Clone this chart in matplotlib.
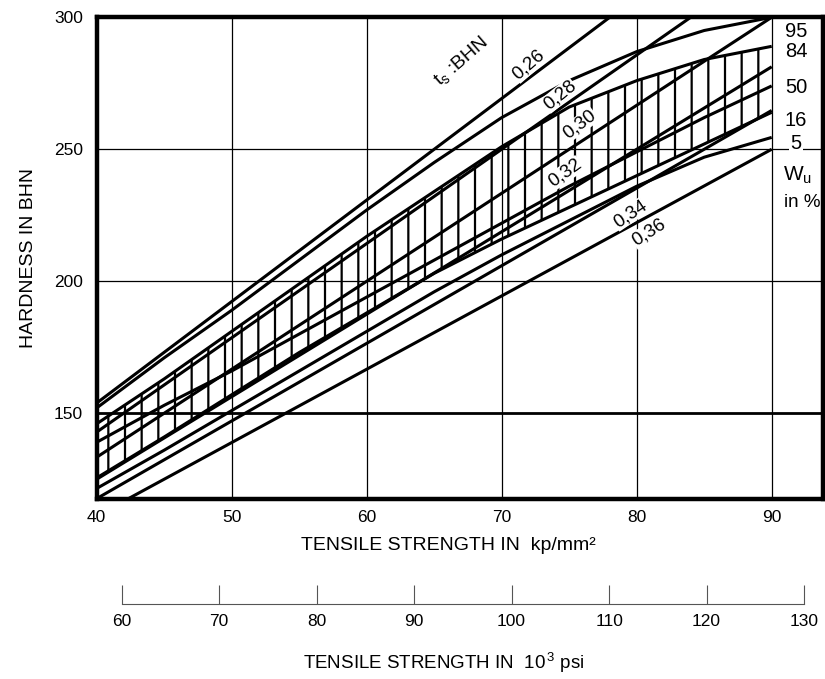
"""
Hardness vs tensile strength chart.

Scatter band of Brinell hardness against tensile strength (kp/mm2) with
percentile curves W_u and straight lines of constant t_s:BHN ratio.
A second scale underneath gives the tensile strength in 10^3 psi.
Writes out.png.
"""

import numpy as np
import matplotlib
matplotlib.use("Agg")
import matplotlib.pyplot as plt

plt.rcParams["font.family"] = ["Liberation Sans", "DejaVu Sans"]
plt.rcParams["mathtext.fontset"] = "custom"
plt.rcParams["mathtext.rm"] = "Liberation Sans"
plt.rcParams["mathtext.it"] = "Liberation Sans"
plt.rcParams["hatch.linewidth"] = 1.6

# -----------------------
# Data
# -----------------------
# tensile strength (kp/mm2) where the percentile curves were read
TS_PTS = [40, 45, 50, 55, 60, 65, 70, 75, 80, 85, 90]

# percentile curves W_u (hardness, BHN)
W95 = [152, 171, 189, 208, 227, 245, 262, 276, 287, 295, 300]
W84 = [146, 163, 181, 199, 217, 234, 251, 266, 276, 284, 289]
W50 = [139, 153, 166, 180, 194, 208, 222, 236, 249, 262, 274]
W16 = [125.5, 141, 157, 173, 188, 203, 216, 228, 240, 252, 264]
W05 = [121.5, 136, 151, 166, 181, 196, 210, 223, 236, 247, 254.5]

# constant ratio lines t_s : BHN
RATIOS = [0.26, 0.28, 0.30, 0.32, 0.34, 0.36]
RATIO_LABELS = ["0,26", "0,28", "0,30", "0,32", "0,34", "0,36"]
# where the ratio labels sit (tensile strength, hardness)
RATIO_LABEL_POS = [(72.0, 282.0), (74.3, 270.5), (75.8, 259.5),
                   (74.7, 241.0), (79.5, 225.5), (80.9, 218.5)]

# percentile labels on the right
PCT_LABELS = ["95", "84", "50", "16", "5"]
PCT_LABEL_Y = [294.5, 287.0, 273.5, 261.0, 252.0]

X_TICKS = [40, 50, 60, 70, 80, 90]
Y_TICKS = [150, 200, 250, 300]
PSI_TICKS = [60, 70, 80, 90, 100, 110, 120, 130]

W = 825
H = 679


def _px_axes(left, top, right, bottom):
    """Figure-fraction rectangle from pixel edges."""
    return [left / W, 1 - bottom / H, (right - left) / W, (bottom - top) / H]


def _line_angle(ax, ratio, x):
    p1 = ax.transData.transform((x, x / ratio))
    p2 = ax.transData.transform((x + 1, (x + 1) / ratio))
    return np.degrees(np.arctan2(p2[1] - p1[1], p2[0] - p1[0]))


def draw_chart():
    fig = plt.figure(figsize=(W / 100, H / 100), dpi=100)
    ax = fig.add_axes(_px_axes(96.7, 17.3, 823, 499))
    ax.set_xlim(40, 93.8)
    ax.set_ylim(117.5, 300)

    # grid
    for x in X_TICKS[1:]:
        ax.axvline(x, color="black", lw=0.9, zorder=1)
    for y in Y_TICKS[1:-1]:
        ax.axhline(y, color="black", lw=0.9, zorder=1)
    ax.axhline(150, color="black", lw=2.0, zorder=1)

    # hatched band between 84 % and 16 %
    ax.fill_between(TS_PTS, W16, W84, facecolor="none", edgecolor="black",
                    hatch="|", linewidth=0, zorder=2)

    # percentile curves
    for curve in [W95, W84, W50, W16, W05]:
        ax.plot(TS_PTS, curve, color="black", lw=2.2, zorder=3,
                solid_capstyle="butt")

    # ratio lines
    ts = np.array([40.0, 90.0])
    for r in RATIOS:
        ax.plot(ts, ts / r, color="black", lw=2.2, zorder=3,
                solid_capstyle="butt")

    for r, lab, (lx, ly) in zip(RATIOS, RATIO_LABELS, RATIO_LABEL_POS):
        ang = _line_angle(ax, r, lx) + 4
        ax.text(lx, ly, lab, rotation=ang, rotation_mode="anchor",
                ha="center", va="center", fontsize=13.5, zorder=5,
                bbox=dict(facecolor="white", edgecolor="none", pad=0.3))

    ang = _line_angle(ax, 0.26, 66) + 4
    ax.text(67.0, 283.5, r"t$_{\rm s}$ :BHN", rotation=ang,
            rotation_mode="anchor", ha="center", va="center",
            fontsize=14, zorder=5)

    # right side labels
    for lab, y in zip(PCT_LABELS, PCT_LABEL_Y):
        ax.text(91.8, y, lab, ha="center", va="center", fontsize=14.5,
                zorder=5, bbox=dict(facecolor="white", edgecolor="none",
                                    pad=1.0) if lab == "5" else None)
    ax.text(91.95, 240.0, r"W$_{\rm u}$", ha="center", va="center",
            fontsize=15, zorder=5)
    ax.text(92.3, 230.0, "in %", ha="center", va="center", fontsize=13.5,
            zorder=5)

    # frame and ticks
    for s in ax.spines.values():
        s.set_linewidth(3.2)
        s.set_zorder(6)
    ax.set_xticks(X_TICKS)
    ax.set_yticks(Y_TICKS)
    ax.tick_params(length=0, labelsize=12.5)
    ax.tick_params(axis="x", pad=8)
    ax.tick_params(axis="y", pad=10)
    ax.set_ylabel("HARDNESS IN BHN", fontsize=14, labelpad=12)
    fig.text(448 / W, 1 - 546 / H, "TENSILE STRENGTH IN  kp/mm\u00b2",
             ha="center", va="center", fontsize=14)

    # secondary scale in 10^3 psi
    ax2 = fig.add_axes(_px_axes(96.7, 603, 823, 604))
    ax2.set_xlim(57.43, 131.95)
    ax2.set_ylim(0, 1)
    for side in ["left", "right", "top"]:
        ax2.spines[side].set_visible(False)
    ax2.spines["bottom"].set_bounds(60, 130)
    ax2.spines["bottom"].set_linewidth(0.8)
    ax2.spines["bottom"].set_color("#555555")
    ax2.set_yticks([])
    ax2.set_xticks(PSI_TICKS)
    ax2.tick_params(axis="x", direction="in", length=14, width=0.8,
                    color="#555555", labelsize=12.5, pad=7)
    ax2.patch.set_alpha(0)
    fig.text(444 / W, 1 - 663 / H, r"TENSILE STRENGTH IN  10$^{\,3}$ psi",
             ha="center", va="center", fontsize=13.5)

    fig.savefig("out.png", dpi=100)
    plt.close(fig)


if __name__ == "__main__":
    draw_chart()
